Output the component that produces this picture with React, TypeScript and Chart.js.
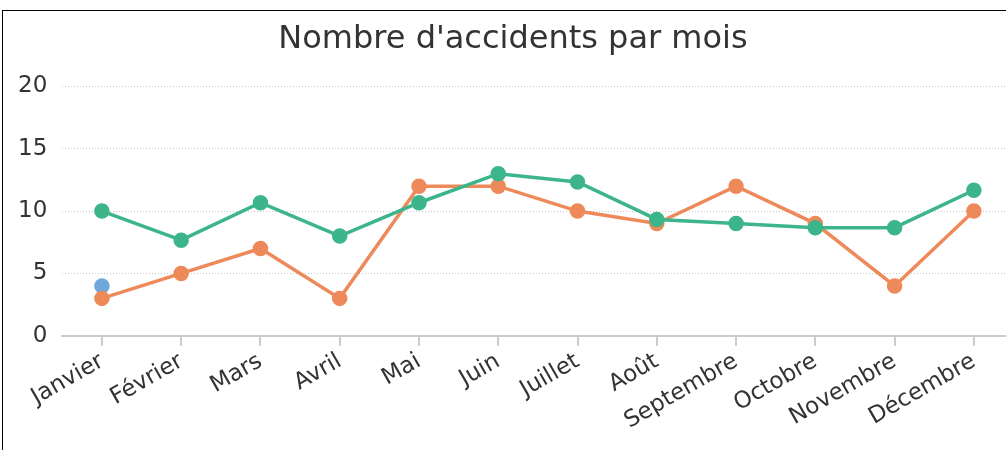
import React, { useEffect, useRef } from "react";
import { Chart, registerables } from "chart.js";

Chart.register(...registerables);

const months = ["Janvier", "Février", "Mars", "Avril", "Mai", "Juin", "Juillet", "Août", "Septembre", "Octobre", "Novembre", "Décembre"];
const greenSeries = [10, 7.67, 10.67, 8, 10.67, 13, 12.33, 9.33, 9, 8.67, 8.67, 11.67];
const orangeSeries = [3, 5, 7, 3, 12, 12, 10, 9, 12, 9, 4, 10];
const blueSeries = [4, null, null, null, null, null, null, null, null, null, null, null];
const titleText = "Nombre d'accidents par mois";

export default function App() {
  const ref = useRef<HTMLCanvasElement>(null);
  useEffect(() => {
    const font = "'DejaVu Sans', sans-serif";
    const chart = new Chart(ref.current!, {
      type: "line",
      data: {
        labels: months,
        datasets: [
          { data: greenSeries, borderColor: "#3db58b", backgroundColor: "#3db58b", borderWidth: 3.5, pointRadius: 6, pointHoverRadius: 6, tension: 0 },
          { data: orangeSeries, borderColor: "#ee8a5a", backgroundColor: "#ee8a5a", borderWidth: 3.5, pointRadius: 6, pointHoverRadius: 6, tension: 0 },
          { data: blueSeries, borderColor: "#6fa8dc", backgroundColor: "#6fa8dc", borderWidth: 3.5, pointRadius: 6, pointHoverRadius: 6, tension: 0 },
        ],
      },
      options: {
        animation: false,
        responsive: false,
        layout: { padding: { left: 0, right: 0, top: 0, bottom: 0 } },
        plugins: {
          legend: { display: false },
          tooltip: { enabled: false },
          title: { display: true, text: titleText, color: "#333", font: { family: font, size: 32, weight: "normal" }, padding: { top: 9, bottom: 28 } },
        },
        scales: {
          x: {
            offset: true,
            grid: { display: true, drawOnChartArea: false, drawTicks: true, tickLength: 10, color: "#ccc", lineWidth: 2 },
            border: { display: true, color: "#ccc", width: 2 },
            ticks: { color: "#333", font: { family: font, size: 23 }, minRotation: 30, maxRotation: 30, padding: 2 },
          },
          y: {
            min: 0,
            max: 20,
            ticks: { stepSize: 5, color: "#333", font: { family: font, size: 23 }, padding: 15 },
            grid: { color: "#c8c8c8", lineWidth: 1, drawTicks: false },
            border: { display: false, dash: [1, 2] },
          },
        },
      },
    });
    return () => chart.destroy();
  }, []);
  return (
    <div style={{ position: "absolute", left: 2, top: 10, width: 1020, height: 470, border: "1px solid #000", background: "#fff" }}>
      <canvas ref={ref} width={1020} height={426} />
    </div>
  );
}
